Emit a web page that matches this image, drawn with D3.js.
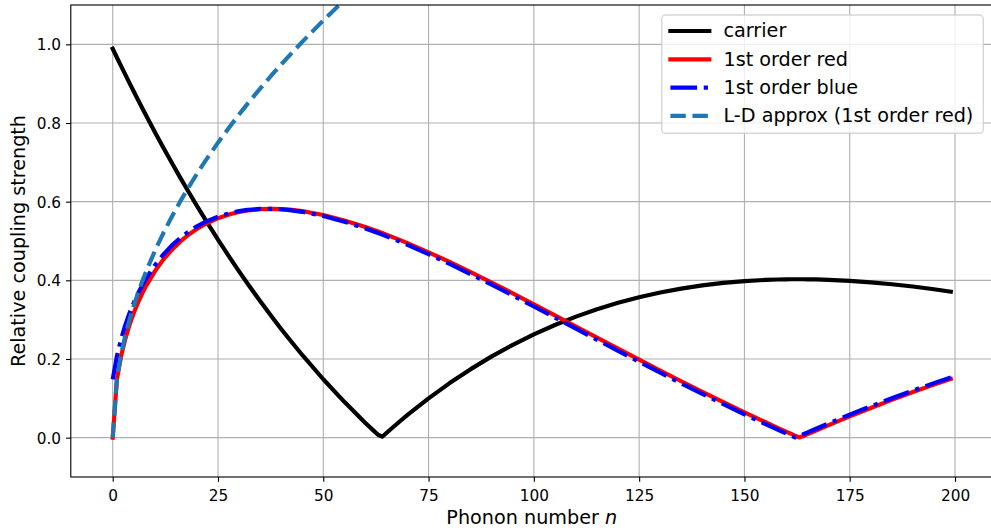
<!DOCTYPE html>
<html>
<head>
<meta charset="utf-8">
<script src="https://cdn.jsdelivr.net/npm/d3@7"></script>
<style>
  body { margin: 0; background: #fff; }
  svg { display: block; }
  text { font-family: "DejaVu Sans", sans-serif; fill: #000; }
</style>
</head>
<body>
<svg id="chart" width="991" height="530"></svg>
<script>
// Phonon numbers at which the coupling strengths are sampled
const phononN = [0, 1, 2, 3, 4, 5, 6, 7, 8, 10, 12, 14, 16, 18, 20, 22, 25, 28, 30, 32,
  35, 38, 40, 42, 45, 50, 55, 60, 62, 63, 64, 65, 66, 68, 70, 75, 80, 85, 90, 95,
  100, 105, 110, 115, 120, 125, 130, 135, 140, 145, 150, 155, 158, 160, 161, 162, 163, 164, 165, 167,
  170, 175, 180, 185, 190, 195, 199];

// Carrier transition strength
const carrier = [0.9888, 0.9665, 0.9445, 0.9228, 0.9013, 0.8800, 0.8590, 0.8382, 0.8177, 0.7773,
  0.7379, 0.6994, 0.6618, 0.6251, 0.5893, 0.5543, 0.5035, 0.4545, 0.4228, 0.3920,
  0.3473, 0.3043, 0.2765, 0.2494, 0.2103, 0.1485, 0.0911, 0.0375, 0.0173, 0.0074,
  0.0024, 0.0120, 0.0214, 0.0399, 0.0578, 0.0999, 0.1387, 0.1742, 0.2066, 0.2360,
  0.2626, 0.2864, 0.3077, 0.3264, 0.3428, 0.3569, 0.3690, 0.3790, 0.3872, 0.3935,
  0.3981, 0.4011, 0.4022, 0.4026, 0.4027, 0.4028, 0.4028, 0.4027, 0.4026, 0.4023,
  0.4013, 0.3987, 0.3949, 0.3901, 0.3842, 0.3773, 0.3712];

// First-order red sideband strength
const firstRed = [0, 0.1483, 0.2074, 0.2511, 0.2867, 0.3169, 0.3431, 0.3664, 0.3872, 0.4229,
  0.4526, 0.4773, 0.4983, 0.5159, 0.5308, 0.5432, 0.5579, 0.5686, 0.5738, 0.5776,
  0.5809, 0.5818, 0.5812, 0.5798, 0.5759, 0.5660, 0.5523, 0.5355, 0.5280, 0.5242,
  0.5202, 0.5161, 0.5119, 0.5034, 0.4946, 0.4713, 0.4467, 0.4208, 0.3942, 0.3668,
  0.3391, 0.3109, 0.2827, 0.2544, 0.2263, 0.1983, 0.1706, 0.1434, 0.1166, 0.0903,
  0.0645, 0.0394, 0.0245, 0.0149, 0.0101, 0.0054, 0.0006, 0.0041, 0.0088, 0.0182,
  0.0319, 0.0540, 0.0754, 0.0962, 0.1160, 0.1349, 0.1495];

// First-order blue sideband strength
const firstBlue = [0.1483, 0.2074, 0.2511, 0.2867, 0.3169, 0.3431, 0.3664, 0.3872, 0.4059, 0.4385,
  0.4654, 0.4883, 0.5075, 0.5236, 0.5372, 0.5486, 0.5618, 0.5714, 0.5759, 0.5790,
  0.5815, 0.5817, 0.5806, 0.5786, 0.5742, 0.5636, 0.5492, 0.5319, 0.5242, 0.5202,
  0.5161, 0.5119, 0.5076, 0.4991, 0.4901, 0.4665, 0.4416, 0.4156, 0.3888, 0.3613,
  0.3335, 0.3053, 0.2771, 0.2487, 0.2207, 0.1927, 0.1651, 0.1380, 0.1113, 0.0851,
  0.0594, 0.0345, 0.0198, 0.0101, 0.0054, 0.0006, 0.0041, 0.0088, 0.0135, 0.0227,
  0.0363, 0.0585, 0.0797, 0.1002, 0.1198, 0.1386, 0.1530];

// Lamb-Dicke approximation of the red sideband (first entries of phononN, up to n = 60)
const ldApprox = [0, 0.1500, 0.2121, 0.2598, 0.3000, 0.3354, 0.3674, 0.3969, 0.4243, 0.4743,
  0.5196, 0.5612, 0.6000, 0.6364, 0.6708, 0.7036, 0.7500, 0.7937, 0.8216, 0.8485,
  0.8874, 0.9247, 0.9487, 0.9721, 1.0062, 1.0607, 1.1124, 1.1619];

const xTicks = [0, 25, 50, 75, 100, 125, 150, 175, 200];
const yTicks = [0.0, 0.2, 0.4, 0.6, 0.8, 1.0];
const seriesNames = ["carrier", "1st order red", "1st order blue", "L-D approx (1st order red)"];

const svg = d3.select("#chart");
const plot = { left: 70.8, right: 992.7, top: 5, bottom: 477 };
const lw = 4.17;

const x = d3.scaleLinear().domain([-9.95, 208.95]).range([plot.left, plot.right]);
const y = d3.scaleLinear().domain([-0.1, 1.1]).range([plot.bottom, plot.top]);

svg.append("defs").append("clipPath").attr("id", "plotClip")
  .append("rect")
  .attr("x", plot.left).attr("y", plot.top)
  .attr("width", plot.right - plot.left).attr("height", plot.bottom - plot.top);

// grid
const grid = svg.append("g").attr("class", "grid");
grid.selectAll("line.gx").data(xTicks).join("line")
  .attr("x1", d => x(d)).attr("x2", d => x(d))
  .attr("y1", plot.top).attr("y2", plot.bottom)
  .attr("stroke", "#b0b0b0").attr("stroke-width", 1.11);
grid.selectAll("line.gy").data(yTicks).join("line")
  .attr("class", "gy")
  .attr("x1", plot.left).attr("x2", plot.right)
  .attr("y1", d => y(d)).attr("y2", d => y(d))
  .attr("stroke", "#b0b0b0").attr("stroke-width", 1.11);

// series
const series = [
  { name: seriesNames[0], values: carrier, color: "#000000", dash: null },
  { name: seriesNames[1], values: firstRed, color: "#ff0000", dash: null },
  { name: seriesNames[2], values: firstBlue, color: "#0000ff", dash: "26.7 6.67 4.17 6.67" },
  { name: seriesNames[3], values: ldApprox, color: "#1f77b4", dash: "15.4 6.67" }
];

const line = d3.line().x(d => x(d[0])).y(d => y(d[1]));
const lines = svg.append("g").attr("clip-path", "url(#plotClip)");
series.forEach(s => {
  const pts = s.values.map((v, i) => [phononN[i], v]);
  lines.append("path")
    .attr("d", line(pts))
    .attr("fill", "none")
    .attr("stroke", s.color)
    .attr("stroke-width", lw)
    .attr("stroke-linejoin", "round")
    .attr("stroke-linecap", s.dash ? "butt" : "square")
    .attr("stroke-dasharray", s.dash);
});

// axes
const xAxis = svg.append("g").attr("transform", `translate(0,${plot.bottom})`)
  .call(d3.axisBottom(x).tickValues(xTicks).tickFormat(d3.format("d")).tickSize(4.86).tickPadding(4.86));
xAxis.select(".domain").remove();
xAxis.selectAll(".tick line").attr("stroke", "#000").attr("stroke-width", 1.11);
xAxis.selectAll(".tick text").attr("y", 23.7).attr("dy", 0)
  .style("font-size", "15.3px").style("font-family", "'DejaVu Sans', sans-serif").attr("fill", "#000");

const yAxis = svg.append("g").attr("transform", `translate(${plot.left},0)`)
  .call(d3.axisLeft(y).tickValues(yTicks).tickFormat(d3.format(".1f")).tickSize(4.86).tickPadding(4.86));
yAxis.select(".domain").remove();
yAxis.selectAll(".tick line").attr("stroke", "#000").attr("stroke-width", 1.11);
yAxis.selectAll(".tick text").attr("dy", 5.6)
  .style("font-size", "15.3px").style("font-family", "'DejaVu Sans', sans-serif").attr("fill", "#000");

// spines
svg.append("rect")
  .attr("x", plot.left).attr("y", plot.top)
  .attr("width", plot.right - plot.left).attr("height", plot.bottom - plot.top)
  .attr("fill", "none").attr("stroke", "#000").attr("stroke-width", 1.11);

// axis labels
const xl = svg.append("text")
  .attr("x", (plot.left + plot.right) / 2).attr("y", 523.5)
  .attr("text-anchor", "middle").style("font-size", "19.2px");
xl.append("tspan").text("Phonon number ");
xl.append("tspan").style("font-style", "italic").text("n");

svg.append("text")
  .attr("transform", `translate(25,${(plot.top + plot.bottom) / 2}) rotate(-90)`)
  .attr("text-anchor", "middle").style("font-size", "19.2px")
  .text("Relative coupling strength");

// legend
const lg = svg.append("g");
lg.append("rect")
  .attr("x", 661.7).attr("y", 15).attr("width", 983.3 - 661.7).attr("height", 133.3 - 15)
  .attr("rx", 3.9).attr("ry", 3.9)
  .attr("fill", "rgba(255,255,255,0.8)").attr("stroke", "rgba(204,204,204,0.8)").attr("stroke-width", 1.39);
const rowY = [31, 59.3, 87.6, 115.9];
series.forEach((s, i) => {
  lg.append("line")
    .attr("x1", 670.4).attr("x2", 709.3).attr("y1", rowY[i]).attr("y2", rowY[i])
    .attr("stroke", s.color).attr("stroke-width", lw)
    .attr("stroke-linecap", s.dash ? "butt" : "square")
    .attr("stroke-dasharray", s.dash);
  lg.append("text").attr("x", 723.5).attr("y", rowY[i] + 6.4)
    .style("font-size", "19.2px").text(s.name);
});
</script>
</body>
</html>
